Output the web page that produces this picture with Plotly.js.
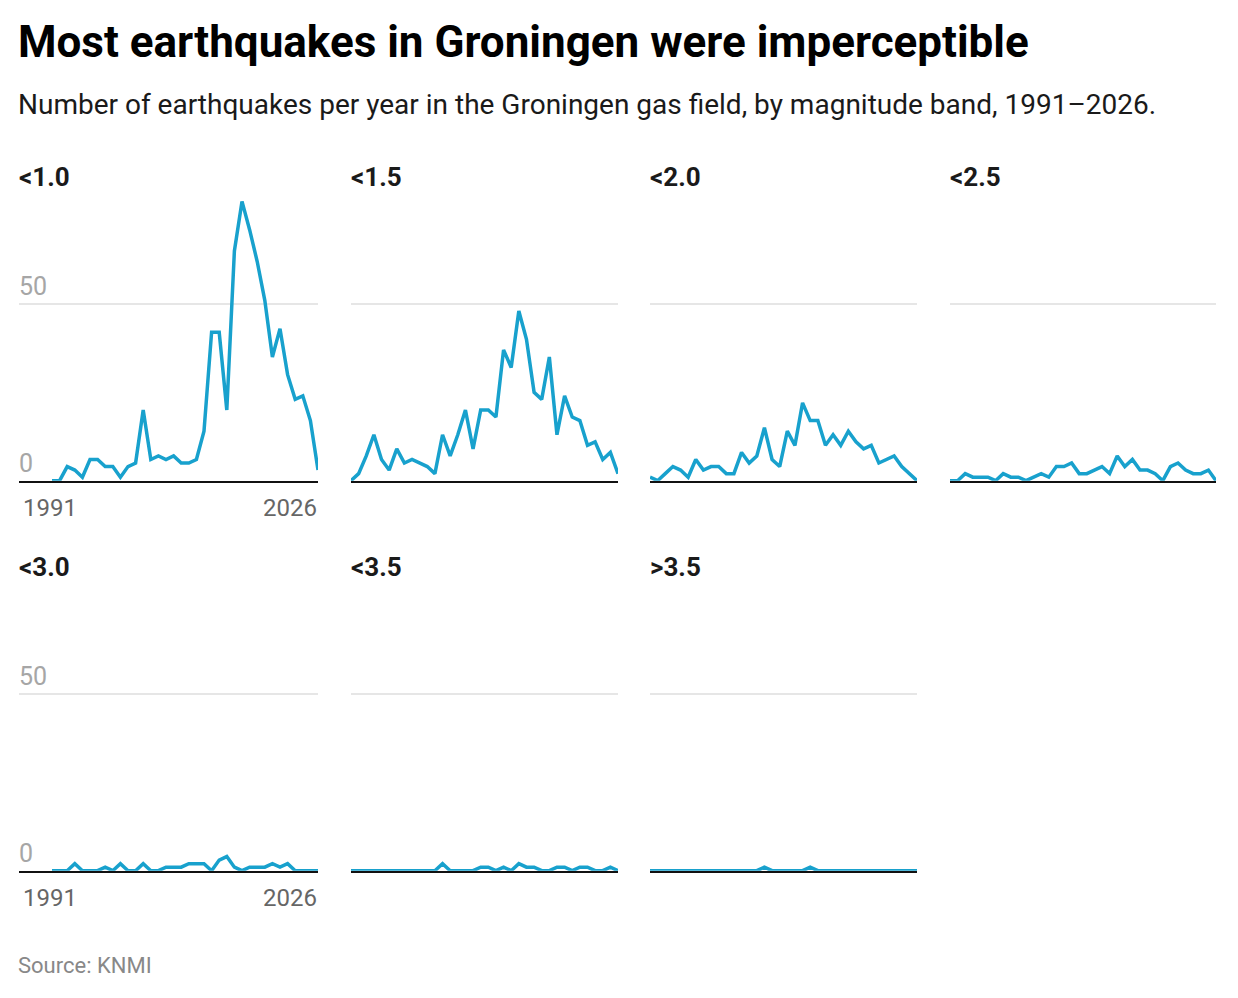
<!DOCTYPE html>
<html>
<head>
<meta charset="utf-8">
<script src="https://cdn.plot.ly/plotly-3.0.1.min.js"></script>
<style>
  html, body { margin: 0; padding: 0; background: #ffffff; }
  #chart { width: 1238px; height: 998px; }
</style>
</head>
<body>
<div id="chart"></div>
<script>
// ---- Data ----
const years = [1991,1992,1993,1994,1995,1996,1997,1998,1999,2000,2001,2002,2003,2004,2005,2006,2007,2008,
               2009,2010,2011,2012,2013,2014,2015,2016,2017,2018,2019,2020,2021,2022,2023,2024,2025,2026];

const bandLabels = ["<1.0", "<1.5", "<2.0", "<2.5", "<3.0", "<3.5", ">3.5"];

const band10 = [0,0,4,3,1,6,6,4,4,1,4,5,20,6,7,6,7,5,5,6,14,42,42,20,65,79,71,62,51,35,43,30,23,24,17,3];
const band15 = [0,2,7,13,6,3,9,5,6,5,4,2,13,7,13,20,9,20,20,18,37,32,48,40,25,23,35,13,24,18,17,10,11,6,8,2];
const band20 = [1,0,2,4,3,1,6,3,4,4,2,2,8,5,7,15,6,4,14,10,22,17,17,10,13,10,14,11,9,10,5,6,7,4,2,0];
const band25 = [0,0,2,1,1,1,0,2,1,1,0,1,2,1,4,4,5,2,2,3,4,2,7,4,6,3,3,2,0,4,5,3,2,2,3,0];
const band30 = [0,0,0,2,0,0,0,1,0,2,0,0,2,0,0,1,1,1,2,2,2,0,3,4,1,0,1,1,1,2,1,2,0,0,0,0];
const band35 = [0,0,0,0,0,0,0,0,0,0,0,0,2,0,0,0,0,1,1,0,1,0,2,1,1,0,0,1,1,0,1,1,0,0,1,0];
const band36 = [0,0,0,0,0,0,0,0,0,0,0,0,0,0,0,1,0,0,0,0,0,1,0,0,0,0,0,0,0,0,0,0,0,0,0,0];

const bandSeries = [band10, band15, band20, band25, band30, band35, band36];

const yTickValues = [0, 50];
const xTickLabels = ["1991", "2026"];

const titleText = "Most earthquakes in Groningen were imperceptible";
const subtitleText = "Number of earthquakes per year in the Groningen gas field, by magnitude band, 1991–2026.";
const sourceText = "Source: KNMI";

// ---- Layout helpers ----
const W = 1238, H = 998;
const px = x => x / W;
const py = y => 1 - y / H;

const FONT = "Roboto, 'Open Sans', sans-serif";
const LINE_COLOR = "#18a1cd";

// column extents (px) and zero baselines for each row
const cols = [[19, 318], [351, 618], [650, 917], [950, 1216]];
const dataStartPx = [52, 351, 650, 950];
const rowZero = [481.7, 871.7];
const yMax = 80;
const pxPerUnit = 177.4 / 50;

const traces = [];
const layout = {
  width: W, height: H,
  margin: {l: 0, r: 0, t: 0, b: 0},
  paper_bgcolor: "#ffffff",
  plot_bgcolor: "rgba(0,0,0,0)",
  showlegend: false,
  font: {family: FONT},
  annotations: [],
  hovermode: false
};

bandSeries.forEach((vals, i) => {
  const col = i % 4, row = Math.floor(i / 4);
  const n = i + 1;
  const xa = "xaxis" + (n === 1 ? "" : n);
  const ya = "yaxis" + (n === 1 ? "" : n);
  const xr = "x" + (n === 1 ? "" : n);
  const yr = "y" + (n === 1 ? "" : n);

  const [c0, c1] = cols[col];
  const yearsSpan = years[years.length - 1] - years[0];
  const pxPerYear = (c1 - dataStartPx[col]) / yearsSpan;
  const xStart = years[0] - (dataStartPx[col] - c0) / pxPerYear;

  const zeroPx = rowZero[row];
  const topPx = zeroPx - yMax * pxPerUnit;

  layout[xa] = {
    domain: [px(c0), px(c1)],
    range: [xStart, years[years.length - 1]],
    anchor: yr,
    showgrid: false,
    zeroline: false,
    showticklabels: false,
    ticks: "",
    showline: true,
    linecolor: "#111111",
    linewidth: 2,
    layer: "above traces",
    fixedrange: true
  };
  layout[ya] = {
    domain: [py(zeroPx) + 1 / H, py(topPx)],
    range: [0, yMax],
    anchor: xr,
    tickvals: [yTickValues[1]],
    showticklabels: false,
    ticks: "",
    showgrid: true,
    gridcolor: "#e6e6e6",
    gridwidth: 1.5,
    zeroline: false,
    showline: false,
    fixedrange: true
  };

  traces.push({
    type: "scatter",
    mode: "lines",
    x: years,
    y: vals,
    xaxis: xr,
    yaxis: yr,
    line: {color: LINE_COLOR, width: 3.5},
    cliponaxis: false,
    hoverinfo: "skip"
  });

  // panel title
  layout.annotations.push({
    text: "<b>" + bandLabels[i].replace("<", "&lt;").replace(">", "&gt;") + "</b>",
    xref: "paper", yref: "paper",
    x: px(c0 - 2), y: py(zeroPx - 304.5),
    xanchor: "left", yanchor: "middle",
    showarrow: false,
    font: {family: FONT, size: 26, color: "#1a1a1a"}
  });

  if (col === 0) {
    yTickValues.forEach(v => {
      layout.annotations.push({
        text: String(v),
        xref: "paper", yref: yr,
        x: px(17), y: v,
        xanchor: "left", yanchor: "middle",
        yshift: 17,
        showarrow: false,
        font: {family: FONT, size: 25, color: "#a6a6a6"}
      });
    });
    layout.annotations.push({
      text: xTickLabels[0],
      xref: xr, yref: "paper",
      x: years[0], y: py(zeroPx + 26),
      xanchor: "center", yanchor: "middle",
      xshift: -2,
      showarrow: false,
      font: {family: FONT, size: 24, color: "#666666"}
    });
    layout.annotations.push({
      text: xTickLabels[1],
      xref: xr, yref: "paper",
      x: years[years.length - 1], y: py(zeroPx + 26),
      xanchor: "right", yanchor: "middle",
      xshift: 1,
      showarrow: false,
      font: {family: FONT, size: 24, color: "#666666"}
    });
  }
});

// title, subtitle, source
layout.annotations.push({
  text: "<b>" + titleText + "</b>",
  xref: "paper", yref: "paper",
  x: px(16), y: py(42),
  xanchor: "left", yanchor: "middle",
  showarrow: false,
  font: {family: FONT, size: 44, color: "#000000"}
});
layout.annotations.push({
  text: subtitleText,
  xref: "paper", yref: "paper",
  x: px(16), y: py(104),
  xanchor: "left", yanchor: "middle",
  showarrow: false,
  font: {family: FONT, size: 28, color: "#1a1a1a"}
});
layout.annotations.push({
  text: sourceText,
  xref: "paper", yref: "paper",
  x: px(16), y: py(965),
  xanchor: "left", yanchor: "middle",
  showarrow: false,
  font: {family: FONT, size: 22, color: "#888888"}
});

Plotly.newPlot("chart", traces, layout, {staticPlot: true, displayModeBar: false});
</script>
</body>
</html>
